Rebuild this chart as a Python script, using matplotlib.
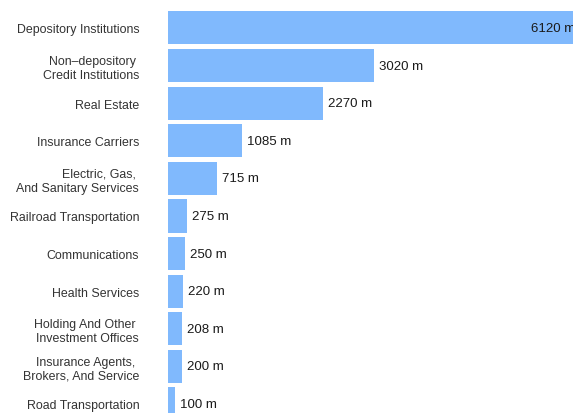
import matplotlib.pyplot as plt

plt.rcParams['font.family'] = ['Liberation Sans', 'DejaVu Sans']

# industries and amounts (millions)
industries = [
    'Depository Institutions',
    'Non–depository \nCredit Institutions',
    'Real Estate',
    'Insurance Carriers',
    'Electric, Gas, \nAnd Sanitary Services',
    'Railroad Transportation',
    'Communications',
    'Health Services',
    'Holding And Other \nInvestment Offices',
    'Insurance Agents, \nBrokers, And Service',
    'Road Transportation',
]
amounts = [6120, 3020, 2270, 1085, 715, 275, 250, 220, 208, 200, 100]

bar_color = '#80b9fd'

fig = plt.figure(figsize=(5.73, 4.14), dpi=100)
ax = fig.add_axes([168.3 / 573, 0, 1 - 168.3 / 573, 1])

y = list(range(len(amounts)))
ax.barh(y, amounts, height=0.88, color=bar_color)

xmax = (573 - 168.3) * 14.7
ax.set_xlim(0, xmax)
ax.set_ylim(10.24, -0.77)

for i, v in enumerate(amounts):
    if v > xmax:
        # too long for the panel: put the label inside the bar end
        ax.text(xmax - 42 * 14.7, i, f'{v} m', va='center', ha='left',
                fontsize=9.5, color='#1a1a1a', clip_on=True)
    else:
        ax.text(v + 5 * 14.7, i, f'{v} m', va='center', ha='left',
                fontsize=9.5, color='#1a1a1a')

ax.set_yticks(y)
ax.set_yticklabels(industries, fontsize=8.9, color='#333333', multialignment='right')
ax.tick_params(axis='y', length=0, pad=21)
ax.set_xticks([])
for s in ax.spines.values():
    s.set_visible(False)

fig.savefig('out.png', dpi=100)
